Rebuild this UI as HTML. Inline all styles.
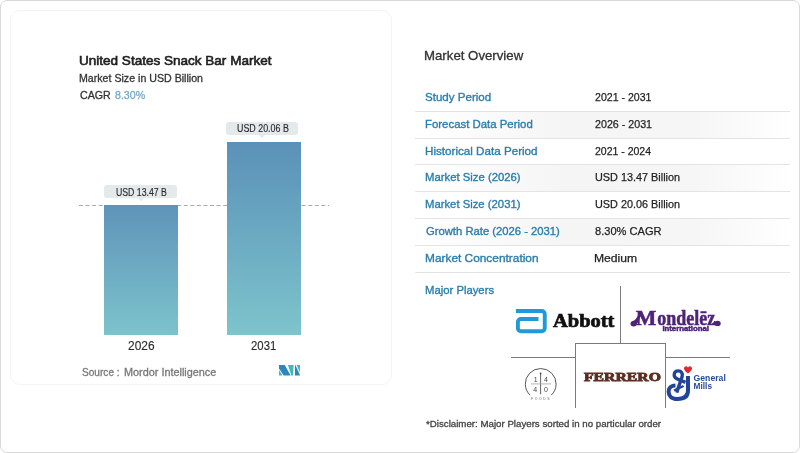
<!DOCTYPE html>
<html><head><meta charset="utf-8">
<style>
*{margin:0;padding:0;box-sizing:border-box}
html,body{width:800px;height:453px;overflow:hidden;background:#fff}
body{font-family:"Liberation Sans",sans-serif;position:relative;color:#333}
.t{position:absolute;white-space:nowrap;line-height:1;transform-origin:0 0;-webkit-text-stroke:0.3px currentColor}
#frame{position:absolute;left:0;top:0;width:800px;height:453px;border:1px solid #d9d9d9;border-radius:7px}
#card{position:absolute;left:10px;top:10px;width:382px;height:375px;border:1px solid #f4f4f4;border-radius:10px}
.bar{position:absolute;background:linear-gradient(#5e93b8,#7cc4cc)}
.lbl{position:absolute;background:#e4e9ec;border-radius:3px;height:13px}
.lbl:after{content:"";position:absolute;left:50%;margin-left:-3px;bottom:-3px;border-left:3px solid transparent;border-right:3px solid transparent;border-top:3px solid #e4e9ec}
.row{position:absolute;left:415px;width:375px;height:1px;background:#e4e4e4}
.shade{position:absolute;left:415px;width:376px;background:linear-gradient(90deg,rgba(245,245,245,0) 0%,#f5f5f5 40%,#f6f6f6 75%,rgba(255,255,255,0) 100%)}
.ln{position:absolute;background:#7a7a7a}
</style></head><body style="will-change:transform">
<div id="frame"></div>
<div id="card"></div>


<!-- dashed line -->
<svg style="position:absolute;left:79px;top:205px" width="250" height="1" viewBox="0 0 250 1"><line x1="0" y1="0.5" x2="250" y2="0.5" stroke="#aaaaaa" stroke-width="1" stroke-dasharray="4 2.55"/></svg>

<div class="bar" style="left:104px;top:205px;width:74px;height:130px;background:linear-gradient(#5f94b9,#7cc3cc)"></div>
<div class="bar" style="left:227px;top:142px;width:74px;height:193px;background:linear-gradient(#5b91b8,#7dc4cc)"></div>

<div class="lbl" style="left:104px;top:185px;width:73px"></div>
<div class="lbl" style="left:226px;top:122px;width:72px"></div>


<svg style="position:absolute;left:279px;top:365.2px" width="21" height="10.6" viewBox="0 0 21 10.6">
<polygon points="0,5 0,10.5 3.5,10.5" fill="#3fb9be"/>
<polygon points="0,0 5.8,0 11.6,10.5 4.6,10.5 0,3.5" fill="#2b87bc"/>
<polygon points="8.9,0 14.6,0 14.1,10.5 12.3,10.5" fill="#3fb9be"/>
<polygon points="16,0 16.4,0 21,10.3 21,10.5 16,10.5" fill="#2b87bc"/>
<polygon points="17.6,0 21,0 21,7.6" fill="#3fb9be"/>
</svg>

<!-- right panel -->

<div class="shade" style="top:112px;height:26px"></div>
<div class="shade" style="top:165px;height:26px"></div>
<div class="shade" style="top:219px;height:26px"></div>

<div class="row" style="top:111px"></div>
<div class="row" style="top:138px"></div>
<div class="row" style="top:164px"></div>
<div class="row" style="top:191px"></div>
<div class="row" style="top:218px"></div>
<div class="row" style="top:245px"></div>
<div class="row" style="top:272px"></div>



<div class="t" id="title" style="left:79.20px;top:54.00px;font-size:13px;color:#1e1e1e;transform:scaleX(1.0406);-webkit-text-stroke:0.6px currentColor;">United States Snack Bar Market</div>
<div class="t" id="sub" style="left:79.20px;top:73.00px;font-size:10.8px;color:#333;transform:scaleX(0.9839);">Market Size in USD Billion</div>
<div class="t" id="cagr1" style="left:80.20px;top:90.00px;font-size:10.8px;color:#333;transform:scaleX(0.9855);">CAGR</div>
<div class="t" id="cagr2" style="left:115.20px;top:90.00px;font-size:10.8px;color:#76abc8;transform:scaleX(0.9848);">8.30%</div>
<div class="t" id="l1" style="left:115.80px;top:188.00px;font-size:10px;color:#2a2a2a;transform:scaleX(0.8720);-webkit-text-stroke:0.15px currentColor;">USD 13.47 B</div>
<div class="t" id="l2" style="left:237.20px;top:124.00px;font-size:10px;color:#2a2a2a;transform:scaleX(0.8887);-webkit-text-stroke:0.15px currentColor;">USD 20.06 B</div>
<div class="t" id="y1" style="left:128.40px;top:340.00px;font-size:12.3px;color:#2a2a2a;transform:scaleX(0.9688);-webkit-text-stroke:0.12px currentColor;">2026</div>
<div class="t" id="y2" style="left:250.80px;top:340.00px;font-size:12.3px;color:#2a2a2a;transform:scaleX(0.9243);-webkit-text-stroke:0.12px currentColor;">2031</div>
<div class="t" id="src1" style="left:81.60px;top:367.00px;font-size:11px;color:#777;transform:scaleX(0.9185);">Source :</div>
<div class="t" id="src2" style="left:124.00px;top:367.00px;font-size:11px;color:#777;transform:scaleX(0.9871);">Mordor Intelligence</div>
<div class="t" id="mo" style="left:424.40px;top:50.00px;font-size:12.6px;color:#333;transform:scaleX(1.0502);">Market Overview</div>
<div class="t" id="k1" style="left:424.80px;top:92.00px;font-size:11.5px;color:#2a7dab;transform:scaleX(1.0049);-webkit-text-stroke:0.35px currentColor;">Study Period</div>
<div class="t" id="k2" style="left:424.80px;top:119.00px;font-size:11.5px;color:#2a7dab;transform:scaleX(0.9914);-webkit-text-stroke:0.35px currentColor;">Forecast Data Period</div>
<div class="t" id="k3" style="left:424.80px;top:146.00px;font-size:11.5px;color:#2a7dab;transform:scaleX(1.0121);-webkit-text-stroke:0.35px currentColor;">Historical Data Period</div>
<div class="t" id="k4" style="left:424.80px;top:172.00px;font-size:11.5px;color:#2a7dab;transform:scaleX(0.9843);-webkit-text-stroke:0.35px currentColor;">Market Size (2026)</div>
<div class="t" id="k5" style="left:424.80px;top:199.00px;font-size:11.5px;color:#2a7dab;transform:scaleX(0.9826);-webkit-text-stroke:0.35px currentColor;">Market Size (2031)</div>
<div class="t" id="k6" style="left:425.80px;top:226.00px;font-size:11.5px;color:#2a7dab;transform:scaleX(0.9781);-webkit-text-stroke:0.35px currentColor;">Growth Rate (2026 - 2031)</div>
<div class="t" id="k7" style="left:424.80px;top:253.00px;font-size:11.5px;color:#2a7dab;transform:scaleX(1.0326);-webkit-text-stroke:0.35px currentColor;">Market Concentration</div>
<div class="t" id="k8" style="left:424.80px;top:285.00px;font-size:11.5px;color:#2a7dab;transform:scaleX(0.9825);-webkit-text-stroke:0.35px currentColor;">Major Players</div>
<div class="t" id="v1" style="left:595.40px;top:92.00px;font-size:11.5px;color:#222;transform:scaleX(0.9196);-webkit-text-stroke:0.25px currentColor;">2021 - 2031</div>
<div class="t" id="v2" style="left:595.40px;top:119.00px;font-size:11.5px;color:#222;transform:scaleX(0.9297);-webkit-text-stroke:0.25px currentColor;">2026 - 2031</div>
<div class="t" id="v3" style="left:595.40px;top:146.00px;font-size:11.5px;color:#222;transform:scaleX(0.9131);-webkit-text-stroke:0.25px currentColor;">2021 - 2024</div>
<div class="t" id="v4" style="left:595.40px;top:172.00px;font-size:11.5px;color:#222;transform:scaleX(0.9436);-webkit-text-stroke:0.25px currentColor;">USD 13.47 Billion</div>
<div class="t" id="v5" style="left:595.40px;top:199.00px;font-size:11.5px;color:#222;transform:scaleX(0.9436);-webkit-text-stroke:0.25px currentColor;">USD 20.06 Billion</div>
<div class="t" id="v6" style="left:595.40px;top:226.00px;font-size:11.5px;color:#222;transform:scaleX(0.9634);-webkit-text-stroke:0.25px currentColor;">8.30% CAGR</div>
<div class="t" id="v7" style="left:594.40px;top:253.00px;font-size:11.5px;color:#222;transform:scaleX(1.0556);-webkit-text-stroke:0.25px currentColor;">Medium</div>
<div class="t" id="disc" style="left:425.80px;top:420.00px;font-size:9.2px;color:#444;transform:scaleX(1.0557);">*Disclaimer: Major Players sorted in no particular order</div>
<!-- logo grid lines -->
<div class="ln" style="left:620px;top:286px;width:1px;height:57px"></div>
<div class="ln" style="left:575px;top:343px;width:91px;height:1px"></div>
<div class="ln" style="left:575px;top:343px;width:1px;height:65px"></div>
<div class="ln" style="left:665px;top:343px;width:1px;height:65px"></div>
<div class="ln" style="left:511px;top:357px;width:64px;height:1px"></div>
<div class="ln" style="left:665px;top:357px;width:65px;height:1px"></div>


<!-- logos -->
<svg style="position:absolute;left:0;top:0" width="800" height="453" viewBox="0 0 800 453">
<!-- Abbott -->
<path d="M515.9,311 H541.75 A3,3 0 0 1 544.75,314 V328.25 A3,3 0 0 1 541.75,331.25 H520.9 A3,3 0 0 1 517.9,328.25 V322.05 A3,3 0 0 1 520.9,319.05 H538.5" fill="none" stroke="#1f9ad7" stroke-width="3.9"/>
<text x="553" y="327.4" font-family="Liberation Serif" font-weight="bold" font-size="18.5" textLength="61.4" lengthAdjust="spacingAndGlyphs" fill="#111" stroke="#111" stroke-width="0.7">Abbott</text>
<!-- Mondelez -->
<text x="635.8" y="324.6" font-family="Liberation Serif" font-weight="bold" font-size="20.5" textLength="20.6" lengthAdjust="spacingAndGlyphs" fill="#4f2379" stroke="#4f2379" stroke-width="0.5">M</text><text x="657.2" y="324.6" font-family="Liberation Serif" font-weight="bold" font-size="20" textLength="58" lengthAdjust="spacingAndGlyphs" fill="#4f2379" stroke="#4f2379" stroke-width="0.5">ondelēz</text>
<ellipse cx="633.6" cy="323.7" rx="3.1" ry="2.7" fill="#4f2379"/>
<path d="M632,321.5 C635,320.5 637,318 639.5,312.5 L641.5,313.5 C640,318.5 638,323 635.5,325.5 Z" fill="#4f2379"/>
<ellipse cx="717.6" cy="323.4" rx="3.1" ry="2.7" fill="#4f2379"/>
<path d="M712,323.5 C714,322 716,321 718.5,321 L719,325 C716,325.5 713.5,325 712,324.5 Z" fill="#4f2379"/>
<text x="662.4" y="330.9" font-family="Liberation Sans" font-weight="bold" font-size="6.8" textLength="46.6" lengthAdjust="spacingAndGlyphs" fill="#4f2379" stroke="#4f2379" stroke-width="0.45">International</text>
<!-- 1440 foods -->
<g transform="translate(0,0.7)">
<path d="M530.2,394.5 A15.4,15.4 0 1 1 551.2,394.5" fill="none" stroke="#555" stroke-width="1"/>
<line x1="540.6" y1="373" x2="540.6" y2="393.6" stroke="#555" stroke-width="0.9"/>
<circle cx="540.6" cy="372.8" r="0.9" fill="#444"/>
<line x1="531" y1="383.2" x2="551" y2="383.2" stroke="#9aa0aa" stroke-width="0.8"/>
<g font-family="Liberation Sans" font-size="7" fill="#444">
<text x="533.7" y="381">1</text><text x="543.9" y="381">4</text>
<text x="533.2" y="391.4">4</text><text x="543.9" y="391.4">0</text>
</g>
<text x="531" y="399.6" font-family="Liberation Sans" font-size="3.4" letter-spacing="1.6" fill="#666">FOODS</text>
</g>
<!-- Ferrero -->
<text x="584" y="380.6" font-family="Liberation Serif" font-weight="bold" font-size="12.8" textLength="77" lengthAdjust="spacingAndGlyphs" fill="#5c2f23" stroke="#5c2f23" stroke-width="0.9">FERRERO</text>
<!-- General Mills -->
<path d="M688,373.6 C684.5,371 684,369.4 684,368.3 C684,366.9 685.3,366.2 686.2,366.2 C687.1,366.2 687.7,366.9 688,367.7 C688.3,366.9 688.9,366.2 689.8,366.2 C690.7,366.2 692,366.9 692,368.3 C692,369.4 691.5,371 688,373.6 Z" fill="#e2262e"/>
<g fill="none" stroke="#22449a" stroke-width="3.8" stroke-linecap="butt">
<path d="M688,376 L688,390.5 C688,396.5 683.8,399 677.5,399 C671,399 668.6,395.5 668.6,391.5 C668.6,387.5 671.5,385.6 675.5,385.6" stroke-width="4"/>
<path d="M685.5,382.3 C680,380.3 674.2,379 674.2,375 C674.2,371.8 676.6,370.9 678.5,370.9 C681.2,370.9 682.8,373.2 682.2,376.2 C681.4,379.8 679,384.5 676.8,392.6" stroke-width="3.4"/>
</g>
<path d="M674,390.6 L683.6,386" stroke="#22449a" stroke-width="2.2"/>
<text x="693.6" y="381.2" font-family="Liberation Sans" font-weight="bold" font-size="8.4" textLength="32.2" lengthAdjust="spacingAndGlyphs" fill="#2b4a9b">General</text>
<text x="693.6" y="389.0" font-family="Liberation Sans" font-weight="bold" font-size="8.4" textLength="18.4" lengthAdjust="spacingAndGlyphs" fill="#2b4a9b">Mills</text>
</svg>


</body></html>
